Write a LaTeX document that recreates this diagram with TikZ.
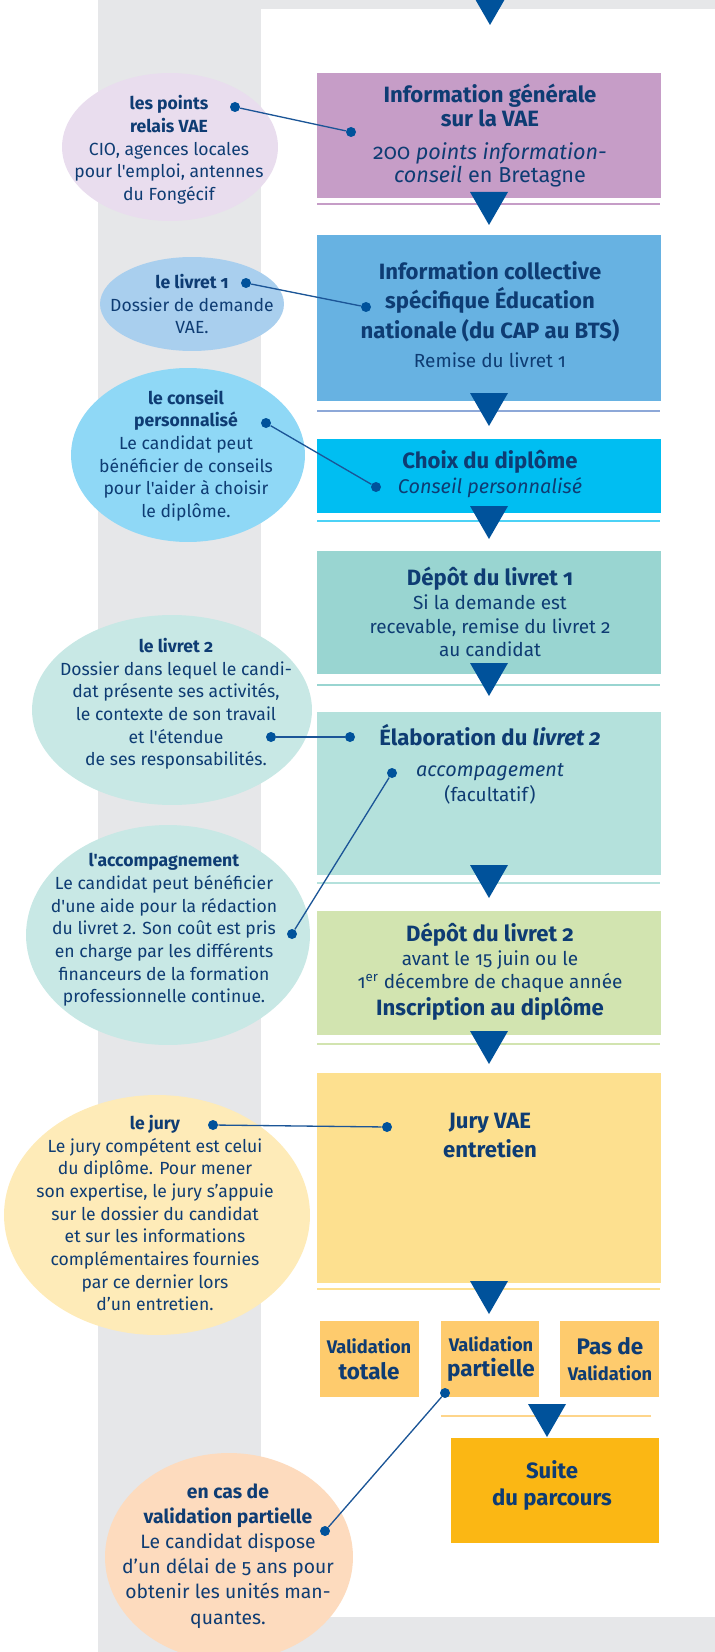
\documentclass[tikz,border=0pt]{standalone}
\usepackage{fontspec}
\setmainfont{Fira Sans}[Numbers=OldStyle,Ligatures=TeXOff]
\usetikzlibrary{shapes.geometric}

\definecolor{vaegray}{HTML}{E6E7E9}
\definecolor{vaenavy}{HTML}{0E3C73}
\definecolor{vaeblue}{HTML}{00529B}
\definecolor{vaeline}{HTML}{1B5597}
\definecolor{infocol}{HTML}{C69DC7}
\definecolor{relaiscol}{HTML}{E9DDEE}
\definecolor{collectcol}{HTML}{67B2E2}
\definecolor{collectsep}{HTML}{8DA8D8}
\definecolor{livretcol}{HTML}{A9CFEE}
\definecolor{choixcol}{HTML}{00BEF2}
\definecolor{conseilcol}{HTML}{8FD8F6}
\definecolor{depotcol}{HTML}{99D5D1}
\definecolor{elabcol}{HTML}{B4E1DC}
\definecolor{tealbubble}{HTML}{C8E8E5}
\definecolor{inscrcol}{HTML}{D2E4B0}
\definecolor{jurycol}{HTML}{FDE08F}
\definecolor{jurybubble}{HTML}{FEEBB8}
\definecolor{resultcol}{HTML}{FECB6D}
\definecolor{suitecol}{HTML}{FBB714}
\definecolor{partbubble}{HTML}{FDDBBE}

\newcommand\flowtri[2]{\fill[vaeblue] (#1-19,#2) -- (#1+19,#2) -- (#1,#2+33) -- cycle;}
\newcommand\ttl[1]{{\fontsize{12.6}{14}\selectfont\bfseries #1}}
\newcommand\bigttl[1]{{\fontsize{12.8}{14}\selectfont\bfseries #1}}
\newcommand\itl[1]{{\fontsize{11.3}{14}\selectfont\itshape #1}}

\tikzset{
  stepbox/.style={rectangle, inner sep=0pt, minimum width=6.88cm},
  resultbox/.style={rectangle, inner sep=0pt, fill=resultcol, minimum width=1.98cm, minimum height=1.52cm},
  bubble/.style={ellipse, inner sep=0pt},
  boxtext/.style={text=vaenavy, align=center, inner sep=0pt, font=\fontsize{10.8}{13.6}\selectfont},
  bubbletext/.style={text=vaenavy, align=center, inner sep=0pt, font=\fontsize{10}{12.9}\selectfont},
  dot/.style={circle, fill=vaeblue, inner sep=0pt, minimum size=0.2cm},
  link/.style={vaeline, line width=0.75pt},
  sep/.style={line width=1pt}
}

\begin{document}
\begin{tikzpicture}[x=0.02cm, y=-0.02cm]
  \useasboundingbox (0,0) rectangle (715,1652);
  \clip (0,0) rectangle (715,1652);
  \fill[vaegray] (98,0) rectangle (715,1652);
  \fill[white] (261,9) rectangle (715,1617);

  % separators
  \draw[sep, infocol] (317,204) -- (660,204);
  \draw[sep, collectsep] (317,411) -- (660,411);
  \draw[sep, choixcol!70] (317,521) -- (660,521);
  \draw[sep, depotcol] (317,685) -- (660,685);
  \draw[sep, elabcol] (317,883) -- (660,883);
  \draw[sep, inscrcol] (317,1044) -- (660,1044);
  \draw[sep, jurycol] (317,1289) -- (660,1289);
  \draw[sep, resultcol!80] (441,1416) -- (651,1416);

  % boxes
  \node[stepbox, fill=infocol, minimum height=2.5cm] (info) at (489,135.5) {};
  \node[boxtext, font=\fontsize{12.3}{13.3}\selectfont] (infotxt) at (490,136)
    {\ttl{Information générale}\\\ttl{sur la VAE}\\[5.7pt]200 \textit{points information-}\\\textit{conseil} en Bretagne};

  \node[stepbox, fill=collectcol, minimum height=3.32cm] (collect) at (489,318) {};
  \node[boxtext, font=\fontsize{10.8}{16.7}\selectfont] (collecttxt) at (490,314.5)
    {\ttl{Information collective}\\\ttl{spécifique Éducation}\\\ttl{nationale (du CAP au BTS)}\\Remise du livret 1};

  \node[stepbox, fill=choixcol, minimum height=1.48cm] (choix) at (489,476) {};
  \node[boxtext, font=\fontsize{10.8}{14.2}\selectfont] (choixtxt) at (490,474.5)
    {\ttl{Choix du diplôme}\\\itl{Conseil personnalisé}};

  \node[stepbox, fill=depotcol, minimum height=2.46cm] (depot) at (489,612.5) {};
  \node[boxtext] (depottxt) at (490,612)
    {\ttl{Dépôt du livret 1}\\Si la demande est\\recevable, remise du livret 2\\au candidat};

  \node[stepbox, fill=elabcol, minimum height=3.26cm] (elab) at (489,793.5) {};
  \node[boxtext, font=\fontsize{10.8}{14.2}\selectfont] (elabtxt) at (490,764)
    {\ttl{Élaboration du \textit{livret 2}}\\[3.4pt]\itl{accompagement}\\(facultatif)};

  \node[stepbox, fill=inscrcol, minimum height=2.48cm] (inscr) at (489,973) {};
  \node[boxtext, font=\fontsize{10.8}{13.3}\selectfont] (inscrtxt) at (490,972)
    {\ttl{Dépôt du livret 2}\\avant le 15 juin ou le\\1\textsuperscript{er} décembre de chaque année\\[2pt]\ttl{Inscription au diplôme}};

  \node[stepbox, fill=jurycol, minimum height=4.2cm] (jury) at (489,1178) {};
  \node[boxtext, font=\fontsize{10.8}{16.4}\selectfont] (jurytxt) at (490,1135.5)
    {\ttl{Jury VAE}\\\ttl{entretien}};

  \node[resultbox] (totale) at (369.5,1359) {};
  \node[resultbox] (partielle) at (490,1359) {};
  \node[resultbox] (aucune) at (609.5,1359) {};
  \node[boxtext, font=\fontsize{10.4}{14.7}\selectfont] (totaletxt) at (369,1359)
    {\textbf{Validation}\\\bigttl{totale}};
  \node[boxtext, font=\fontsize{10.4}{14.7}\selectfont] (partielletxt) at (491,1359)
    {\textbf{Validation}\\\bigttl{partielle}};
  \node[boxtext, font=\fontsize{10.4}{14.7}\selectfont] (aucunetxt) at (610,1359)
    {\bigttl{Pas de}\\\textbf{Validation}};

  \node[stepbox, fill=suitecol, minimum width=4.16cm, minimum height=2.1cm] (suite) at (555,1490.5) {};
  \node[boxtext, font=\fontsize{10.8}{15.3}\selectfont] (suitetxt) at (552,1485.5)
    {\ttl{Suite}\\\ttl{du parcours}};

  % bubbles
  \node[bubble, fill=relaiscol, minimum width=4.32cm, minimum height=2.96cm] (relais) at (170,147) {};
  \node[bubbletext] (relaistxt) at (169,150)
    {\textbf{les points}\\\textbf{relais VAE}\\CIO, agences locales\\pour l'emploi, antennes\\du Fongécif};

  \node[bubble, fill=livretcol, minimum width=3.68cm, minimum height=1.88cm] (livretun) at (192,304) {};
  \node[bubbletext] (livretuntxt) at (192,304)
    {\textbf{le livret 1}\\Dossier de demande\\VAE.};

  \node[bubble, fill=conseilcol, minimum width=4.68cm, minimum height=3.48cm] (conseil) at (188,455) {};
  \node[bubbletext] (conseiltxt) at (186,455.5)
    {\textbf{le conseil}\\\textbf{personnalisé}\\Le candidat peut\\bénéficier de conseils\\pour l'aider à choisir\\le diplôme.};

  \node[bubble, fill=tealbubble, minimum width=5.6cm, minimum height=3.8cm] (livretdeux) at (172,710) {};
  \node[bubbletext] (livretdeuxtxt) at (176,704)
    {\textbf{le livret 2}\\Dossier dans lequel le candi-\\dat présente ses activités,\\le contexte de son travail\\et l'étendue\\de ses responsabilités.};

  \node[bubble, fill=tealbubble, minimum width=5.68cm, minimum height=4.4cm] (accomp) at (168,935) {};
  \node[bubbletext] (accomptxt) at (164,930)
    {\textbf{l'accompagnement}\\Le candidat peut bénéficier\\d'une aide pour la rédaction\\du livret 2. Son coût est pris\\en charge par les différents\\financeurs de la formation\\professionnelle continue.};

  \node[bubble, fill=jurybubble, minimum width=6.12cm, minimum height=4.8cm] (jurybub) at (157,1215) {};
  \node[bubbletext] (jurybubtxt) at (155,1213)
    {\textbf{le jury}\\Le jury compétent est celui\\du diplôme. Pour mener\\son expertise, le jury s’appuie\\sur le dossier du candidat\\et sur les informations\\complémentaires fournies\\par ce dernier lors\\d’un entretien.};

  \node[bubble, fill=partbubble, minimum width=4.96cm, minimum height=4.16cm] (partbub) at (229,1557) {};
  \node[bubbletext, font=\fontsize{11}{14.3}\selectfont] (partbubtxt) at (228,1556)
    {\textbf{en cas de}\\\textbf{validation partielle}\\Le candidat dispose\\d’un délai de 5 ans pour\\obtenir les unités man-\\quantes.};

  % triangles
  \flowtri{490}{-8}
  \flowtri{489}{192}
  \flowtri{489}{393}
  \flowtri{489}{506}
  \flowtri{489}{663}
  \flowtri{489}{865}
  \flowtri{489}{1031}
  \flowtri{489}{1281}
  \flowtri{547}{1404}

  % connectors
  \node[dot] (relaisdot) at (235,107) {};
  \node[dot] (infodot) at (351,132) {};
  \node[dot] (livretundot) at (246,283) {};
  \node[dot] (collectdot) at (366,307) {};
  \node[dot] (conseildot) at (266,423) {};
  \node[dot] (choixdot) at (376,487) {};
  \node[dot] (livretdeuxdot) at (271,737) {};
  \node[dot] (elabdot) at (350,737) {};
  \node[dot] (accompdot) at (292,934) {};
  \node[dot] (accompboxdot) at (392,773) {};
  \node[dot] (jurybubdot) at (213,1125) {};
  \node[dot] (jurydot) at (387,1127) {};
  \node[dot] (partbubdot) at (325,1531) {};
  \node[dot] (partielledot) at (445,1393) {};
  \draw[link] (relaisdot) -- (infodot);
  \draw[link] (livretundot) -- (collectdot);
  \draw[link] (conseildot) -- (choixdot);
  \draw[link] (livretdeuxdot) -- (elabdot);
  \draw[link] (accompdot) -- (accompboxdot);
  \draw[link] (jurybubdot) -- (jurydot);
  \draw[link] (partbubdot) -- (partielledot);
\end{tikzpicture}
\end{document}
